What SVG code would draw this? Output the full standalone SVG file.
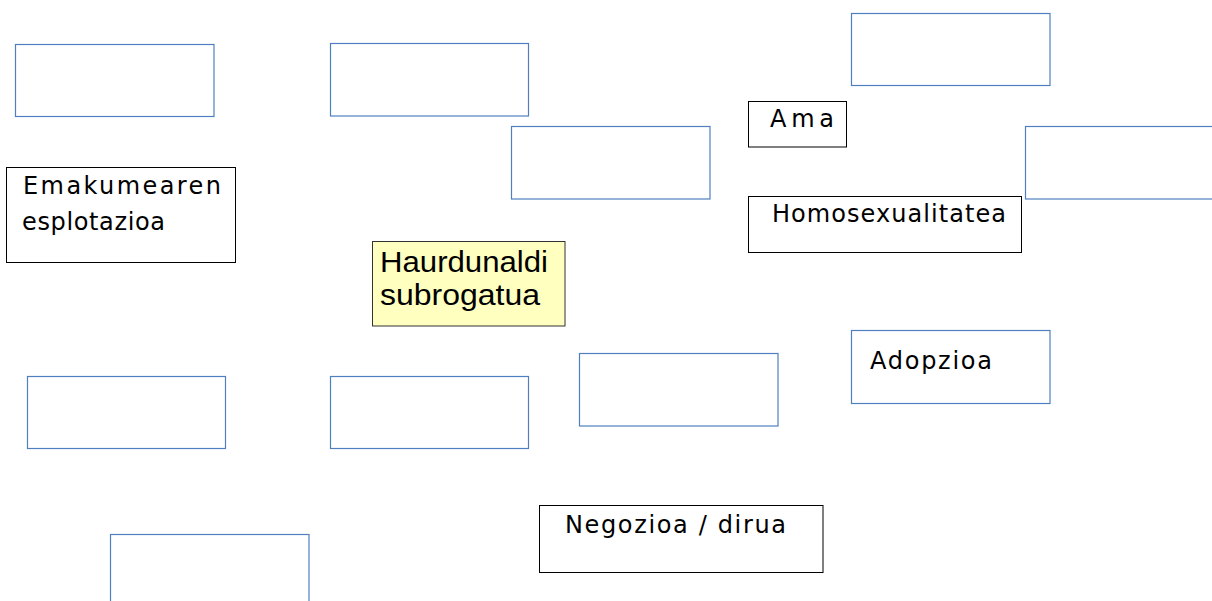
<svg xmlns="http://www.w3.org/2000/svg" width="1212" height="601" viewBox="0 0 1212 601">
<style>
.blue{fill:#ffffff;stroke:#4f7fbf;stroke-width:1.2}
.blk{fill:#ffffff;stroke:#000000;stroke-width:1}
.main{fill:#ffffc0;stroke:#333333;stroke-width:1}
.hand{font-family:"Segoe Print","DejaVu Sans",sans-serif;font-size:24px;fill:#000000}
.sans{font-family:"Liberation Sans",Arial,sans-serif;font-size:29px;fill:#000000}
</style>
<rect width="1212" height="601" fill="#ffffff"/>
<g id="connectors"></g>
<g id="empty1"><rect class="blue" x="15.5" y="44.5" width="198.5" height="72"/></g>
<g id="empty2"><rect class="blue" x="330.5" y="43.5" width="198" height="72.5"/></g>
<g id="empty3"><rect class="blue" x="851.5" y="13.5" width="198.5" height="72"/></g>
<g id="empty4"><rect class="blue" x="511.5" y="126.5" width="198.5" height="72.5"/></g>
<g id="empty5"><rect class="blue" x="1025.5" y="126.5" width="198.5" height="72.5"/></g>
<g id="empty6"><rect class="blue" x="27.5" y="376.5" width="198" height="72"/></g>
<g id="empty7"><rect class="blue" x="330.5" y="376.5" width="198" height="72"/></g>
<g id="empty8"><rect class="blue" x="579.5" y="353.5" width="198.5" height="72.5"/></g>
<g id="empty9"><rect class="blue" x="110.5" y="534.5" width="198.5" height="72"/></g>
<g id="emakumearen">
<rect class="blk" x="6.5" y="167.5" width="229" height="95"/>
<text class="hand" x="23" y="194" textLength="198" lengthAdjust="spacing">Emakumearen</text>
<text class="hand" x="22" y="230" textLength="143" lengthAdjust="spacing">esplotazioa</text>
</g>
<g id="haurdunaldi">
<rect class="main" x="372.5" y="241.5" width="192.5" height="84.5"/>
<text class="sans" x="380" y="272" textLength="168" lengthAdjust="spacingAndGlyphs">Haurdunaldi</text>
<text class="sans" x="380" y="305" textLength="160" lengthAdjust="spacingAndGlyphs">subrogatua</text>
</g>
<g id="ama">
<rect class="blk" x="748.5" y="101.5" width="98" height="45.5"/>
<text class="hand" x="770" y="127" textLength="64" lengthAdjust="spacing">Ama</text>
</g>
<g id="homosexualitatea">
<rect class="blk" x="748.5" y="196.5" width="273" height="56"/>
<text class="hand" x="772" y="222" textLength="234" lengthAdjust="spacing">Homosexualitatea</text>
</g>
<g id="adopzioa">
<rect class="blue" x="851.5" y="330.5" width="198.5" height="73"/>
<text class="hand" x="870" y="369" textLength="122" lengthAdjust="spacing">Adopzioa</text>
</g>
<g id="negozioa">
<rect class="blk" x="539.5" y="505.5" width="283.5" height="67"/>
<text class="hand" x="565" y="533" textLength="221" lengthAdjust="spacing">Negozioa / dirua</text>
</g>
</svg>
